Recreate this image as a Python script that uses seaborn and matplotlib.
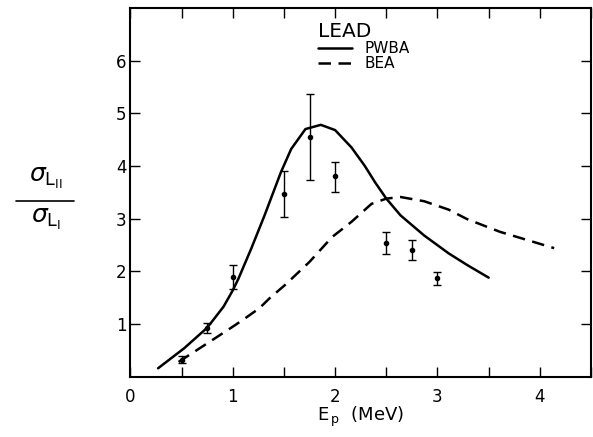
import numpy as np
import pandas as pd
import matplotlib
matplotlib.use('Agg')
import matplotlib.pyplot as plt
from matplotlib.lines import Line2D
from matplotlib.ticker import MultipleLocator
import seaborn as sns

# ================= data =================
# PWBA theory curve (solid)
pwba_x = [0.27, 0.525, 0.75, 0.91, 1.0, 1.055, 1.18, 1.31, 1.47, 1.57, 1.71,
          1.86, 2.0, 2.16, 2.29, 2.39, 2.5, 2.64, 2.87, 3.11, 3.29, 3.5]
pwba_y = [0.16, 0.54, 0.93, 1.33, 1.64, 1.86, 2.43, 3.06, 3.88, 4.32, 4.70,
          4.78, 4.68, 4.35, 4.00, 3.69, 3.38, 3.06, 2.68, 2.34, 2.12, 1.88]

# BEA theory curve (dashed)
bea_x = [0.47, 0.78, 1.0, 1.10, 1.26, 1.36, 1.51, 1.75, 1.97, 2.16, 2.355,
         2.5, 2.64, 2.87, 3.11, 3.29, 3.61, 4.14]
bea_y = [0.28, 0.67, 0.95, 1.08, 1.30, 1.49, 1.74, 2.18, 2.65, 2.94, 3.28,
         3.38, 3.41, 3.33, 3.17, 2.99, 2.75, 2.44]

# measured ratios with error bars
ep = [0.5, 0.75, 1.0, 1.5, 1.75, 2.0, 2.5, 2.75, 3.0]
ratio = [0.32, 0.92, 1.90, 3.47, 4.55, 3.80, 2.53, 2.40, 1.88]
ratio_lo = [0.26, 0.82, 1.67, 3.03, 3.73, 3.50, 2.32, 2.21, 1.74]
ratio_hi = [0.39, 1.01, 2.12, 3.90, 5.36, 4.07, 2.74, 2.59, 1.99]

# ================= style =================
sns.set_theme(style='ticks')
plt.rcParams['font.family'] = ['DejaVu Sans']
plt.rcParams['mathtext.fontset'] = 'dejavusans'
plt.rcParams['text.color'] = 'black'
plt.rcParams['axes.labelcolor'] = 'black'
plt.rcParams['xtick.color'] = 'black'
plt.rcParams['ytick.color'] = 'black'

curves = pd.concat([
    pd.DataFrame({'E': pwba_x, 'ratio': pwba_y, 'model': 'PWBA'}),
    pd.DataFrame({'E': bea_x, 'ratio': bea_y, 'model': 'BEA'}),
], ignore_index=True)

fig = plt.figure(figsize=(5.93, 4.37), dpi=100)
ax = fig.add_axes([0.220, 0.138, 0.7766, 0.844])

sns.lineplot(data=curves, x='E', y='ratio', style='model', color='black',
             dashes={'PWBA': '', 'BEA': (5, 3)}, linewidth=1.8, sort=False,
             ax=ax)

yerr = [np.array(ratio) - np.array(ratio_lo), np.array(ratio_hi) - np.array(ratio)]
ax.errorbar(ep, ratio, yerr=yerr, fmt='o', color='black', markersize=3,
            elinewidth=1.0, capsize=3, capthick=1.0)

ax.set_xlim(0, 4.5)
ax.set_ylim(0, 7)
ax.xaxis.set_major_locator(MultipleLocator(1))
ax.xaxis.set_minor_locator(MultipleLocator(0.5))
ax.set_yticks([1, 2, 3, 4, 5, 6])
ax.tick_params(which='both', direction='in', top=True, right=True,
               length=7, width=1.0, color='black', labelcolor='black',
               labelsize=12)
ax.tick_params(axis='x', which='both', pad=8)
ax.tick_params(axis='y', which='both', pad=3)
for s in ax.spines.values():
    s.set_linewidth(1.5)
    s.set_color('black')

ax.set_xlabel(r'E$_{\,\mathrm{p}}$  (MeV)', fontsize=13, labelpad=-1,
              color='black')
ax.set_ylabel('')

# y label drawn as a stacked fraction
fig.text(0.078, 0.592, r'$\sigma_{\mathrm{L}_{\mathrm{II}}}$', fontsize=18,
         ha='center', va='center', color='black')
fig.text(0.078, 0.497, r'$\sigma_{\mathrm{L}_{\mathrm{I}}}$', fontsize=18,
         ha='center', va='center', color='black')
fig.add_artist(Line2D([0.027, 0.125], [0.541, 0.541], color='black',
                      linewidth=1.2, transform=fig.transFigure))

handles, labels = ax.get_legend_handles_labels()
leg = ax.legend(handles=handles, labels=labels, title='LEAD', frameon=False,
                loc='upper left', bbox_to_anchor=(0.385, 0.99), fontsize=11,
                title_fontsize=14.5, handlelength=2.2, handletextpad=0.8,
                labelspacing=0.0, borderpad=0.2, labelcolor='black')
leg.get_title().set_color('black')
leg._legend_box.align = 'left'

fig.savefig('out.png', dpi=100)
